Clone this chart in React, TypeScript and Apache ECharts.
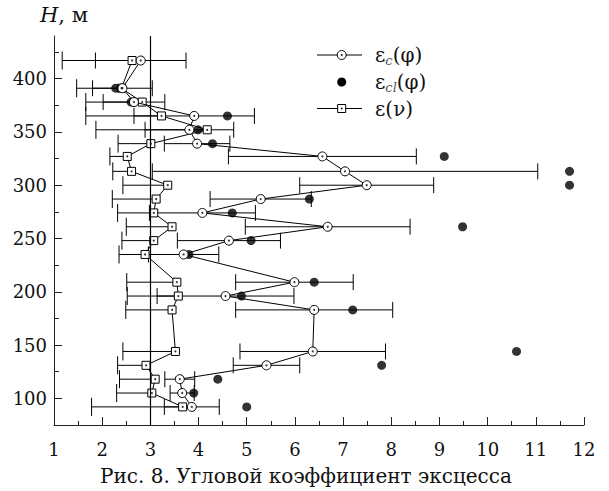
import React, { useEffect, useRef } from 'react';
import * as echarts from 'echarts';

// Height levels, m
const H = [92, 105, 118, 131, 144, 183, 196, 209, 235, 248, 261, 274, 287, 300, 313, 327, 339, 352, 365, 378, 391, 417];
// εc(φ) values and half-width of their error bars
const epsC = [3.86, 3.66, 3.61, 5.41, 6.37, 6.40, 4.56, 5.99, 3.69, 4.63, 6.68, 4.08, 5.29, 7.49, 7.04, 6.57, 3.97, 3.81, 3.91, 2.66, 2.42, 2.80];
const epsCErr = [0.57, 0.25, 0.31, 0.69, 1.51, 1.63, 1.42, 1.22, 0.73, 1.07, 1.71, 1.10, 1.05, 1.39, 4.00, 1.95, 0.68, 0.92, 1.25, 0.64, 0.62, 0.94];
// εcl(φ) values
const epsCl: (number | null)[] = [5.0, 3.9, 4.4, 7.8, 10.6, 7.2, 4.89, 6.4, 3.8, 5.09, 9.48, 4.7, 6.3, 11.7, 11.7, 9.1, 4.29, 3.99, 4.6, 2.6, 2.28, null];
// ε(ν) values and lower end of their error bars
const epsNu = [3.67, 3.03, 3.10, 2.91, 3.52, 3.45, 3.58, 3.55, 2.89, 3.07, 3.45, 3.07, 3.12, 3.36, 2.61, 2.52, 3.01, 4.18, 3.23, 2.83, 2.40, 2.62];
const epsNuLow = [1.78, 2.30, 2.36, 2.32, 2.43, 2.49, 2.52, 2.51, 2.35, 2.41, 2.50, 2.32, 2.21, 2.43, 2.22, 2.16, 2.33, 1.87, 1.66, 1.66, 1.47, 1.17];

const yLabelValues = [100, 150, 200, 250, 300, 350, 400];
const yMinorValues = [125, 175, 225, 275, 325, 375, 425];
const refLine = 3;

const FONT = 'DejaVu Serif';
const INK = '#111';

function errBarRender(capLeft: boolean, capRight: boolean, half: number) {
  return (params: any, api: any) => {
    const h = api.value(0);
    const lo = api.value(1);
    const hi = api.value(2);
    const p1 = api.coord([lo, h]);
    const p2 = api.coord([hi, h]);
    const st = { stroke: '#000', lineWidth: 1 };
    const children: any[] = [
      { type: 'line', shape: { x1: p1[0], y1: p1[1], x2: p2[0], y2: p2[1] }, style: st },
    ];
    if (capLeft) children.push({ type: 'line', shape: { x1: p1[0], y1: p1[1] - half, x2: p1[0], y2: p1[1] + half }, style: st });
    if (capRight) children.push({ type: 'line', shape: { x1: p2[0], y1: p2[1] - half, x2: p2[0], y2: p2[1] + half }, style: st });
    return { type: 'group', children };
  };
}

export default function App() {
  const ref = useRef<HTMLDivElement>(null);
  useEffect(() => {
    if (!ref.current) return;
    const chart = echarts.init(ref.current, undefined, { renderer: 'svg' });
    const cPts = H.map((h, i) => [epsC[i], h]);
    const nuPts = H.map((h, i) => [epsNu[i], h]);
    const clPts = H.map((h, i) => [epsCl[i], h]).filter((p) => p[0] !== null);
    const cBars = H.map((h, i) => [h, epsC[i] - epsCErr[i], epsC[i] + epsCErr[i]]);
    const nuBars = H.map((h, i) => [h, epsNuLow[i], epsNu[i]]);

    const legendX = 341.7;
    const openCircle = (cx: number, cy: number) => [
      { type: 'line', shape: { x1: 317, y1: cy, x2: 362, y2: cy }, style: { stroke: '#000', lineWidth: 1 } },
      { type: 'circle', shape: { cx, cy, r: 4.5 }, style: { fill: '#fff', stroke: '#000', lineWidth: 1 } },
      { type: 'circle', shape: { cx, cy, r: 0.9 }, style: { fill: '#000' } },
    ];
    const legendText = (y: number, text: string) => ({
      type: 'text',
      x: 375,
      y,
      style: {
        text,
        textAlign: 'left',
        textVerticalAlign: 'middle',
        rich: {
          a: { fontSize: 20, fontFamily: FONT, fill: INK, lineHeight: 24 },
          s: { fontSize: 13, fontFamily: FONT, fontStyle: 'italic', fill: '#555', lineHeight: 13, verticalAlign: 'bottom' },
        },
      },
    });

    chart.setOption({
      animation: false,
      backgroundColor: '#fff',
      textStyle: { fontFamily: FONT },
      grid: { left: 54, top: 36, right: 25, bottom: 66, outerBoundsMode: 'none' },
      xAxis: {
        type: 'value',
        min: 1,
        max: 12,
        interval: 1,
        axisLine: { show: true, lineStyle: { color: '#222', width: 1 } },
        axisTick: { show: true, inside: true, length: 8, lineStyle: { color: '#222' } },
        minorTick: { show: true, splitNumber: 2, length: 4, lineStyle: { color: '#222' } },
        axisLabel: { color: INK, fontSize: 18, fontFamily: FONT, margin: 15 },
        splitLine: { show: false },
      },
      yAxis: [
        {
          type: 'value',
          min: 75,
          max: 440,
          axisLine: { show: true, lineStyle: { color: '#222', width: 1 } },
          axisTick: { show: true, inside: true, length: 8, customValues: yLabelValues, lineStyle: { color: '#222' } },
          axisLabel: { color: INK, fontSize: 18, fontFamily: FONT, margin: 7, customValues: yLabelValues },
          splitLine: { show: false },
        },
        {
          type: 'value',
          min: 75,
          max: 440,
          position: 'left',
          offset: 0,
          axisLine: { show: false },
          axisTick: { show: true, inside: true, length: 5, customValues: yMinorValues, lineStyle: { color: '#222' } },
          axisLabel: { show: false },
          splitLine: { show: false },
        },
      ],
      series: [
        {
          type: 'custom',
          name: 'errC',
          renderItem: errBarRender(true, true, 8),
          data: cBars,
          encode: { x: [1, 2], y: 0 },
          z: 1,
          silent: true,
        },
        {
          type: 'custom',
          name: 'errNu',
          renderItem: errBarRender(true, false, 9),
          data: nuBars,
          encode: { x: [1, 2], y: 0 },
          z: 1,
          silent: true,
        },
        {
          type: 'scatter',
          name: 'εcl(φ)',
          data: clPts,
          symbol: 'circle',
          symbolSize: 9,
          itemStyle: { color: '#000' },
          z: 4,
          markLine: {
            silent: true,
            symbol: ['none', 'none'],
            label: { show: false },
            lineStyle: { color: '#000', width: 1.2, type: 'solid' },
            data: [{ xAxis: refLine }],
          },
        },
        {
          type: 'line',
          name: 'ε(ν)',
          data: nuPts,
          symbol: 'rect',
          symbolSize: 8,
          showAllSymbol: true,
          lineStyle: { color: '#000', width: 1 },
          itemStyle: { color: '#fff', borderColor: '#000', borderWidth: 1 },
          z: 3,
        },
        {
          type: 'line',
          name: 'εc(φ)',
          data: cPts,
          symbol: 'circle',
          symbolSize: 9,
          showAllSymbol: true,
          lineStyle: { color: '#000', width: 1 },
          itemStyle: { color: '#fff', borderColor: '#000', borderWidth: 1 },
          z: 5,
        },
        {
          type: 'scatter',
          name: 'dotsNu',
          data: nuPts,
          symbol: 'circle',
          symbolSize: 2,
          itemStyle: { color: '#000' },
          z: 6,
          silent: true,
        },
        {
          type: 'scatter',
          name: 'dotsC',
          data: cPts,
          symbol: 'circle',
          symbolSize: 2,
          itemStyle: { color: '#000' },
          z: 6,
          silent: true,
        },
      ],
      graphic: [
        {
          type: 'text',
          x: 40,
          y: 15,
          style: {
            text: '{i|H}{n|, м}',
            textAlign: 'left',
            textVerticalAlign: 'middle',
            rich: {
              i: { fontSize: 21, fontFamily: FONT, fontStyle: 'italic', fill: INK },
              n: { fontSize: 21, fontFamily: FONT, fill: INK },
            },
          },
        },
        ...openCircle(legendX, 55),
        { type: 'circle', shape: { cx: legendX, cy: 82, r: 4.5 }, style: { fill: '#000' } },
        { type: 'line', shape: { x1: 317, y1: 108.5, x2: 362, y2: 108.5 }, style: { stroke: '#000', lineWidth: 1 } },
        { type: 'rect', shape: { x: legendX - 4, y: 104.5, width: 8, height: 8 }, style: { fill: '#fff', stroke: '#000', lineWidth: 1 } },
        { type: 'circle', shape: { cx: legendX, cy: 108.5, r: 0.9 }, style: { fill: '#000' } },
        legendText(55, '{a|ε}{s|c}{a|(φ)}'),
        legendText(82, '{a|ε}{s|cl}{a|(φ)}'),
        legendText(108.5, '{a|ε(ν)}'),
        {
          type: 'text',
          x: 306,
          y: 476,
          style: {
            text: 'Рис. 8. Угловой коэффициент эксцесса',
            textAlign: 'center',
            textVerticalAlign: 'middle',
            fontSize: 20,
            fontFamily: FONT,
            fill: INK,
          },
        },
      ],
    });
    return () => chart.dispose();
  }, []);
  return <div ref={ref} style={{ position: 'absolute', left: 0, top: 0, width: 609, height: 491, background: '#fff' }} />;
}
